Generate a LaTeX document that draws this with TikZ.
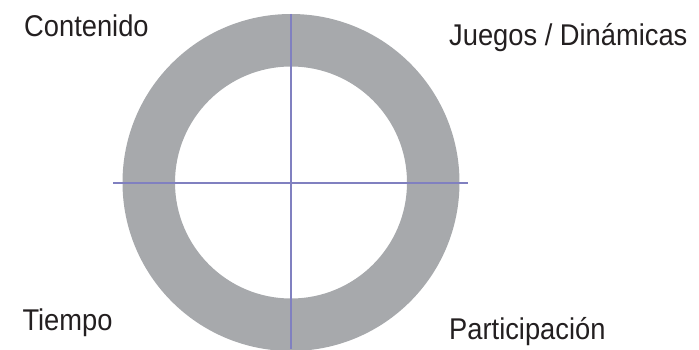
\documentclass[tikz,border=0pt]{standalone}
\usepackage{fontspec}
\setmainfont[FakeStretch=0.91]{Liberation Sans}
\definecolor{ringgray}{RGB}{167,169,172}
\definecolor{axisblue}{RGB}{128,128,192}
\definecolor{textdark}{RGB}{35,31,32}
\begin{document}
\begin{tikzpicture}[x=1pt,y=1pt,
  lbl/.style={anchor=base west,inner sep=0pt,text=textdark,font=\fontsize{30}{36}\selectfont},
  axis/.style={draw=axisblue,line width=2pt}]
\useasboundingbox (0,0) rectangle (699,349);
\begin{scope}
\clip (0,0) rectangle (699,349);
\fill[ringgray,even odd rule] (291,166.5) circle[radius=168.5] (291,166.5) circle[radius=116];
\end{scope}
\coordinate (top) at (290.7,335);
\coordinate (bot) at (290.7,0);
\coordinate (lft) at (113,166.5);
\coordinate (rgt) at (468,166.5);
\draw[axis] (top) -- (bot);
\draw[axis] (lft) -- (rgt);
\node[lbl] (contenido) at (24,312.3) {Contenido};
\node[lbl] (juegos) at (449,303) {Juegos / Dinámicas};
\node[lbl] (tiempo) at (22.3,19) {Tiempo};
\node[lbl] (particip) at (449,9.7) {Participación};
\end{tikzpicture}
\end{document}
